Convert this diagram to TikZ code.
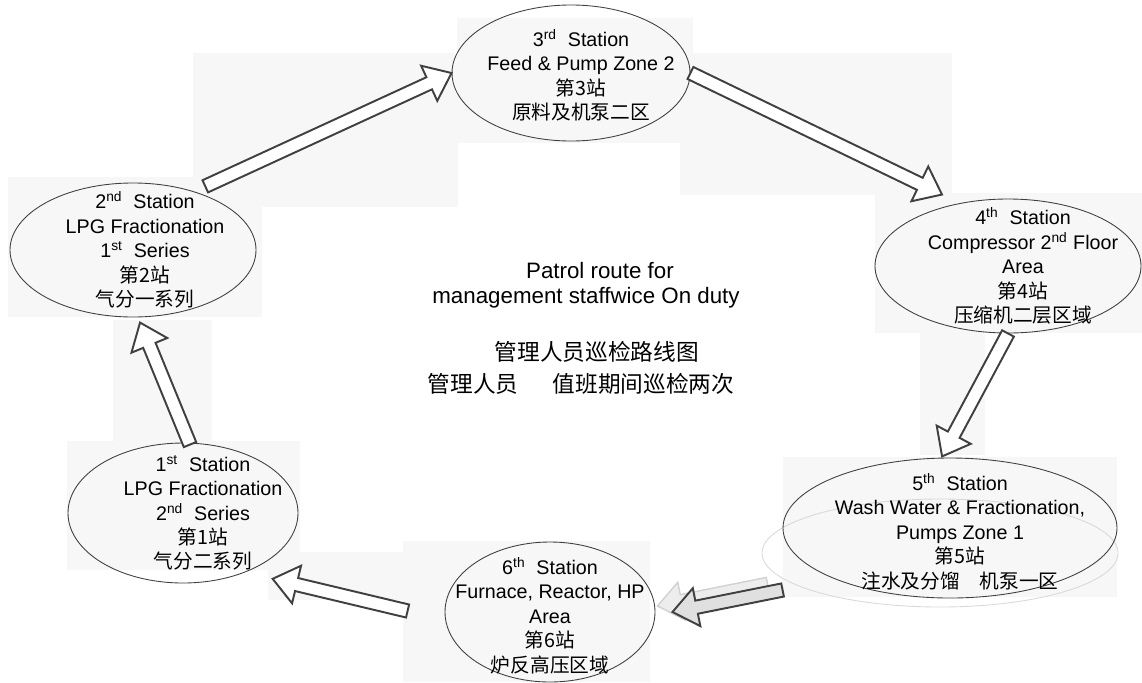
\documentclass[tikz,border=0pt]{standalone}
\usepackage{fontspec}
\setmainfont{Liberation Sans}
\newfontfamily\cjk{Noto Sans CJK SC}
\usepackage{tikz}
\usetikzlibrary{shapes.geometric,calc,positioning}
\definecolor{myline}{RGB}{64,64,64}
\definecolor{mybg}{RGB}{247,247,247}

\begin{document}
\begin{tikzpicture}[x=0.2mm,y=-0.2mm,
    station/.style={draw=myline,ellipse,inner sep=0pt,line width=0.5pt},
    stationtext/.style={align=center,inner sep=0pt,font=\fontsize{11.2}{13.9}\selectfont},
    titletext/.style={align=center,inner sep=0pt,font=\fontsize{12.7}{14.2}\selectfont},
    alongarrow/.style={shift={(\p1)},rotate=\n1},
    blockarrow/.style={draw=myline,line width=1.1pt,fill=white,line join=miter,
      to path={let \p1=(\tikztostart),\p2=(\tikztotarget),
        \n1={atan2(\y2-\y1,\x2-\x1)},\n2={veclen(\x2-\x1,\y2-\y1)} in
        ([alongarrow]0pt,3.8pt) -- ([alongarrow]\n2-14pt,3.8pt)
        -- ([alongarrow]\n2-14pt,11pt) -- ([alongarrow]\n2,0pt)
        -- ([alongarrow]\n2-14pt,-11pt) -- ([alongarrow]\n2-14pt,-3.8pt)
        -- ([alongarrow]0pt,-3.8pt) -- cycle}},
    ghostarrow/.style={blockarrow,draw=black!18,line width=0.8pt,fill=black!7}
  ]
  \useasboundingbox (0,0) rectangle (1142,682);

  % light backdrops
  \foreach \xa/\ya/\xb/\yb in {193/53/458/207, 457/18/693/143, 680/53/952/195,
      8/177/262/317, 875/193/1142/333, 920/333/985/455, 783/457/1117/597,
      67/441/300/570, 113/320/212/445, 403/541/650/682, 268/552/405/600}
    \fill[mybg] (\xa,\ya) rectangle (\xb,\yb);
  \draw[black!15,line width=0.5pt] (940,553) ellipse [x radius=3.56cm,y radius=1.08cm];

  % the stations
  \node[station,minimum width=4.6cm,minimum height=2.8cm,
    label={[stationtext,xshift=0.4cm]center:{1\textsuperscript{st}~ Station\\
      LPG Fractionation\\2\textsuperscript{nd}~ Series\\{\cjk 第1站}\\{\cjk 气分二系列}}}]
    (s1) at (183,513) {};
  \node[station,minimum width=4.92cm,minimum height=2.68cm,
    label={[stationtext,xshift=0.24cm]center:{2\textsuperscript{nd}~ Station\\
      LPG Fractionation\\1\textsuperscript{st}~ Series\\{\cjk 第2站}\\{\cjk 气分一系列}}}]
    (s2) at (133,250) {};
  \node[station,minimum width=4.76cm,minimum height=2.72cm,
    label={[stationtext,xshift=0.2cm,yshift=-0.05cm]center:{3\textsuperscript{rd}~ Station\\
      Feed \& Pump Zone 2\\{\cjk 第3站}\\{\cjk 原料及机泵二区}}}]
    (s3) at (571,73) {};
  \node[station,minimum width=5.32cm,minimum height=2.68cm,
    label={[stationtext,xshift=0.3cm]center:{4\textsuperscript{th}~ Station\\
      Compressor 2\textsuperscript{nd} Floor\\Area\\{\cjk 第4站}\\{\cjk 压缩机二层区域}}}]
    (s4) at (1008,266) {};
  \node[station,minimum width=6.68cm,minimum height=2.8cm,
    label={[stationtext,xshift=0.2cm,yshift=-0.07cm]center:{5\textsuperscript{th}~ Station\\
      Wash Water \& Fractionation,\\Pumps Zone 1\\{\cjk 第5站}\\{\cjk 注水及分馏\hspace{1em}机泵一区}}}]
    (s5) at (950,528) {};
  \node[station,minimum width=4.2cm,minimum height=2.8cm,
    label={[stationtext,yshift=-0.07cm]center:{6\textsuperscript{th}~ Station\\
      Furnace, Reactor, HP\\Area\\{\cjk 第6站}\\{\cjk 炉反高压区域}}}]
    (s6) at (550,612) {};

  % the title
  \node[titletext] (title) at (586,285)
    {\hspace*{1.25em}Patrol route for\\management staffwice On duty};
  \node[titletext,font=\cjk\fontsize{12.9}{18.2}\selectfont] (titlecn) at (581,368)
    {\hspace*{1.4em}管理人员巡检路线图\\管理人员\hspace{1.5em}值班期间巡检两次};

  % the route
  \draw[blockarrow] ($(s2.north east)+(-15,-16)$) to (s3.west);
  \draw[blockarrow] (s3.east) to ($(s4.north)+(-66,-4)$);
  \draw[blockarrow] (s4.south) to ($(s5.north)+(-8,-1)$);
  \draw[ghostarrow] ($(s5.west)+(-15,56)$) to ($(s6.east)+(2,-6)$);
  \draw[blockarrow,fill=black!12] ($(s5.west)+(0,62)$) to ($(s6.east)+(17,0)$);
  \draw[blockarrow] ($(s6.west)+(-37,-1)$) to ($(s1.south east)+(8,16)$);
  \draw[blockarrow] ($(s1.north)+(7,2)$) to ($(s2.south)+(7,5)$);
\end{tikzpicture}
\end{document}
